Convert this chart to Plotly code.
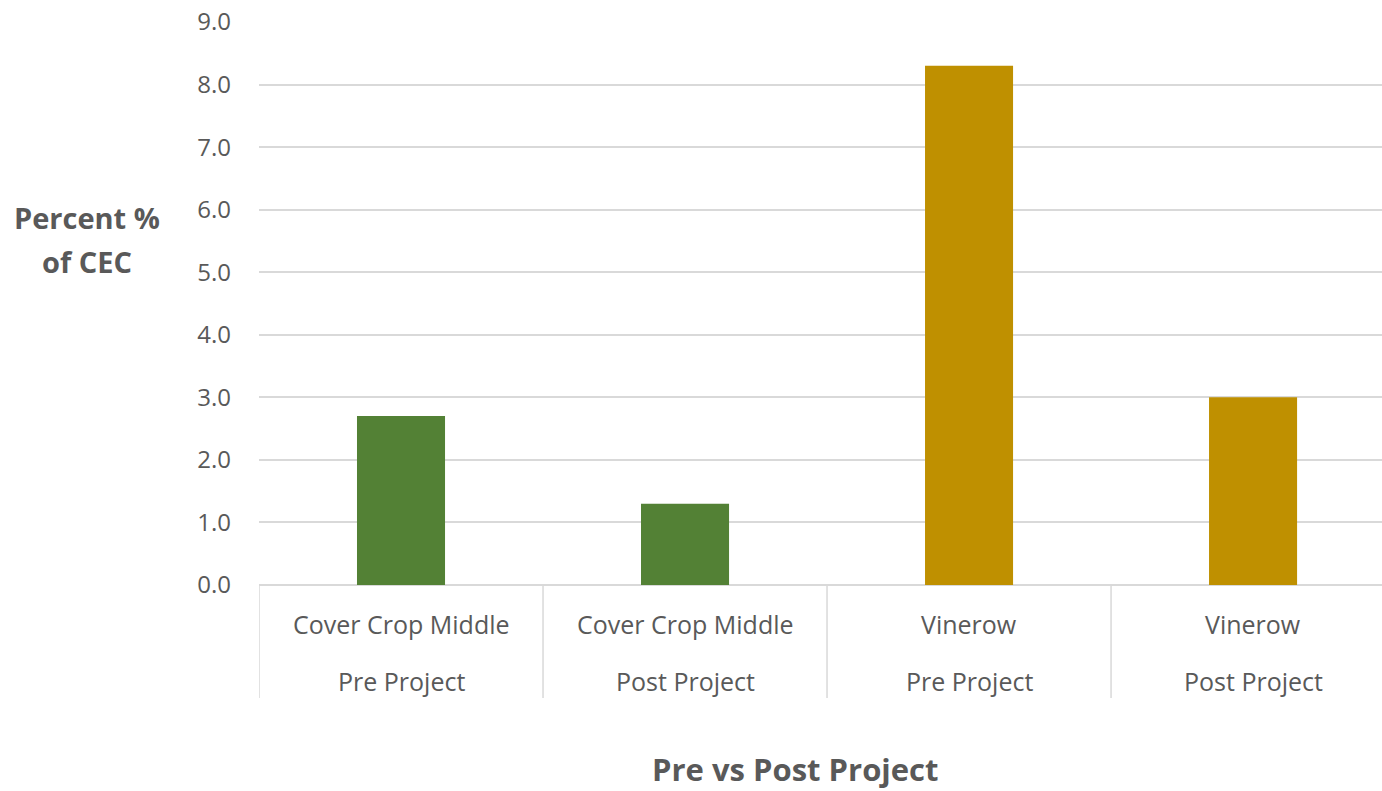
import plotly.graph_objects as go

# Percent of CEC by sampling location, before and after the project
locations = ["Cover Crop Middle", "Cover Crop Middle", "Vinerow", "Vinerow"]
periods = ["Pre Project", "Post Project", "Pre Project", "Post Project"]
values = [2.7, 1.3, 8.3, 3.0]
bar_colors = ["#538135", "#538135", "#BF9000", "#BF9000"]
y_ticks = [0, 1, 2, 3, 4, 5, 6, 7, 8, 9]

FONT = "'Open Sans', sans-serif"
GRAY = "#595959"
LINE = "#D9D9D9"

idx = list(range(len(values)))

fig = go.Figure(
    go.Bar(
        x=idx,
        y=values,
        marker=dict(color=bar_colors, line=dict(width=0)),
        width=0.31,
        hoverinfo="y",
    )
)

# Two-row category labels under each bar
annotations = []
for i, (loc, per) in enumerate(zip(locations, periods)):
    annotations.append(dict(x=i, y=0, xref="x", yref="paper", text=loc,
                            showarrow=False, xanchor="center", yanchor="middle",
                            yshift=-39,
                            font=dict(family=FONT, size=25, color=GRAY)))
    annotations.append(dict(x=i, y=0, xref="x", yref="paper", text=per,
                            showarrow=False, xanchor="center", yanchor="middle",
                            yshift=-96,
                            font=dict(family=FONT, size=25, color=GRAY)))

# Y-axis title, two lines
for line_text, shift in [("Percent %", 22), ("of CEC", -22)]:
    annotations.append(dict(x=0, y=0.6128, xref="paper", yref="paper",
                            text=f"<b>{line_text}</b>", showarrow=False,
                            xanchor="center", yanchor="middle",
                            xshift=-172, yshift=shift,
                            font=dict(family=FONT, size=29, color=GRAY)))

# X-axis title
annotations.append(dict(x=0.4773, y=0, xref="paper", yref="paper",
                        text="<b>Pre vs Post Project</b>", showarrow=False,
                        xanchor="center", yanchor="middle", yshift=-184,
                        font=dict(family=FONT, size=31, color=GRAY)))

# Vertical separators between categories
shapes = []
for b in [-0.5, 0.5, 1.5, 2.5]:
    shapes.append(dict(type="line", xref="x", yref="paper", x0=b, x1=b,
                       y0=0, y1=-0.2007, line=dict(color=LINE, width=1.5)))

fig.update_layout(
    width=1382,
    height=791,
    margin=dict(l=259, r=0, t=22, b=206),
    plot_bgcolor="white",
    paper_bgcolor="white",
    showlegend=False,
    annotations=annotations,
    shapes=shapes,
    xaxis=dict(range=[-0.5, 3.454], showticklabels=False, showgrid=False,
               zeroline=False, showline=False, ticks=""),
    yaxis=dict(range=[0, 9], tickvals=y_ticks,
               ticktext=[f"{v:.1f}" for v in y_ticks],
               showgrid=True, gridcolor=LINE, gridwidth=1.5,
               zeroline=True, zerolinecolor=LINE, zerolinewidth=1.5,
               showline=False, ticks="", ticklabelstandoff=27,
               tickfont=dict(family=FONT, size=24, color=GRAY)),
)

fig.write_html("out.html")
